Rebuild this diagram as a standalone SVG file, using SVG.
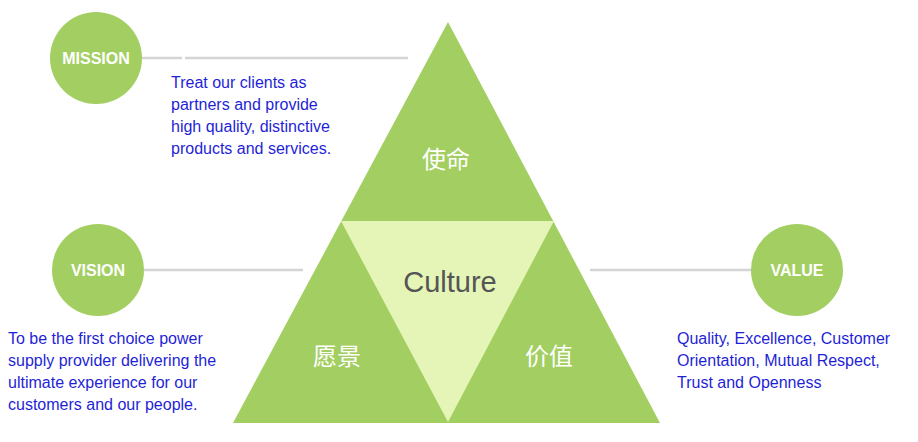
<svg xmlns="http://www.w3.org/2000/svg" width="918" height="442" viewBox="0 0 918 442">
<style>
.c{fill:#a3cf62}
.ct{fill:#fff;font:bold 16px "Liberation Sans",Arial,sans-serif;text-anchor:middle}
.d{fill:#1f1fd6;font:16px "Liberation Sans",Arial,sans-serif}
.cn{fill:#fff;font:24px "Noto Sans CJK SC",sans-serif;text-anchor:middle}
.ln{stroke:#d4d4d4;stroke-width:2.5}
</style>
<rect width="918" height="442" fill="#fff"/>
<g id="connectors">
<line class="ln" x1="142" y1="58" x2="182" y2="58"/>
<line class="ln" x1="185" y1="58" x2="408" y2="58"/>
<line class="ln" x1="144" y1="270" x2="303" y2="270"/>
<line class="ln" x1="590" y1="270" x2="752" y2="270"/>
</g>
<g id="pyramid">
<polygon points="448,22 233,423 660,423" fill="#a3cf62"/>
<polygon points="341,221 554,221 448,422" fill="#e5f4b7"/>
<text x="450" y="292" font-family="Liberation Sans,Arial,sans-serif" font-size="29" fill="#555" text-anchor="middle">Culture</text>
<text class="cn" x="446" y="168">使命</text>
<text class="cn" x="337" y="365">愿景</text>
<text class="cn" x="549" y="365">价值</text>
</g>
<g id="mission">
<circle class="c" cx="96" cy="58" r="46"/>
<text class="ct" x="96" y="64">MISSION</text>
<text class="d" x="171" y="88">Treat our clients as</text>
<text class="d" x="171" y="110">partners and provide</text>
<text class="d" x="171" y="132">high quality, distinctive</text>
<text class="d" x="171" y="154">products and services.</text>
</g>
<g id="vision">
<circle class="c" cx="98" cy="270" r="46"/>
<text class="ct" x="98" y="276">VISION</text>
<text class="d" x="8" y="344">To be the first choice power</text>
<text class="d" x="8" y="366">supply provider delivering the</text>
<text class="d" x="8" y="388">ultimate experience for our</text>
<text class="d" x="8" y="410">customers and our people.</text>
</g>
<g id="value">
<circle class="c" cx="797" cy="270" r="46"/>
<text class="ct" x="797" y="276">VALUE</text>
<text class="d" x="677" y="344">Quality, Excellence, Customer</text>
<text class="d" x="677" y="366">Orientation, Mutual Respect,</text>
<text class="d" x="677" y="388">Trust and Openness</text>
</g>
</svg>
